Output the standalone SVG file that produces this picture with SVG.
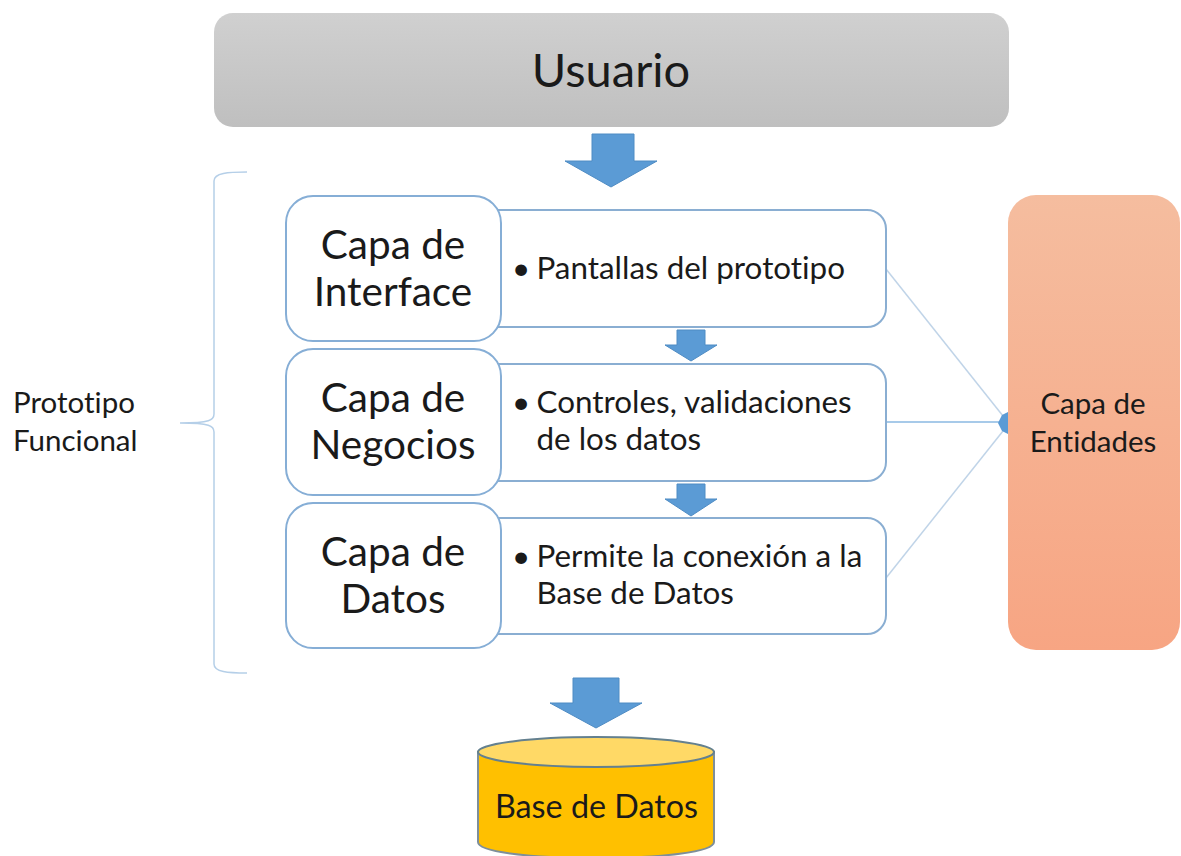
<svg xmlns="http://www.w3.org/2000/svg" width="1181" height="856" viewBox="0 0 1181 856">
<defs>
<linearGradient id="gu" x1="0" y1="0" x2="0" y2="1"><stop offset="0" stop-color="#d0d0d0"/><stop offset="1" stop-color="#bfbfbf"/></linearGradient>
<linearGradient id="ge" x1="0" y1="0" x2="0" y2="1"><stop offset="0" stop-color="#f5bd9f"/><stop offset="1" stop-color="#f7a583"/></linearGradient>
</defs>
<style>
text{font-family:Lato,"Noto Sans","Liberation Sans",sans-serif;fill:#1a1a1a;font-variant-ligatures:none}
.m{text-anchor:middle}
.a{fill:#5b9bd5;stroke:#4f8cc4;stroke-width:1}
.l{fill:#fff;stroke:#86aed6;stroke-width:2}
.r{fill:#fff;stroke:#8aaed2;stroke-width:2}
.h{font-size:40.5px}
.b{font-size:31.4px}
.s{font-size:29.5px}
.c{fill:none;stroke:#c0d4e8;stroke-width:1.5}
</style>
<g id="usuario"><rect x="214" y="13" width="795" height="114" rx="19" fill="url(#gu)"/><text class="m" x="611" y="87" font-size="47">Usuario</text></g>
<g id="connectors">
<path class="c" d="M886 269L1003 416"/>
<path d="M886 422H1003" fill="none" stroke="#8ab8e2" stroke-width="1.5"/>
<path class="c" d="M886 578L1003 431"/>
<path d="M1008 412L1002 415L998 423L1002 431L1008 434Z" fill="#5b9bd5"/>
<path class="a" d="M592 134H634V161H657L611 187L565 161H592Z"/>
<path class="a" d="M677 330H705V345H717L691 361L665 345H677Z"/>
<path class="a" d="M677 484H705V499H717L691 516L665 499H677Z"/>
<path class="a" d="M573 678H619V703H642L596 728L550 703H573Z"/>
</g>
<g id="pantallas"><rect class="r" x="440" y="210" width="446" height="117" rx="19"/><text class="b" x="512" y="279">•</text><text class="b" x="536.5" y="279">Pantallas del prototipo</text></g>
<g id="interface"><rect class="l" x="286" y="196" width="215" height="145" rx="27"/><text class="m h" x="393" y="259">Capa de</text><text class="m h" x="393" y="306">Interface</text></g>
<g id="controles"><rect class="r" x="440" y="364" width="446" height="117" rx="19"/><text class="b" x="512" y="413">•</text><text class="b" x="536.5" y="413">Controles, validaciones</text><text class="b" x="536.5" y="450">de los datos</text></g>
<g id="negocios"><rect class="l" x="286" y="349" width="215" height="146" rx="27"/><text class="m h" x="393" y="412">Capa de</text><text class="m h" x="393" y="459">Negocios</text></g>
<g id="permite"><rect class="r" x="440" y="518" width="446" height="116" rx="19"/><text class="b" x="512" y="567">•</text><text class="b" x="536.5" y="567">Permite la conexión a la</text><text class="b" x="536.5" y="604">Base de Datos</text></g>
<g id="datos"><rect class="l" x="286" y="503" width="215" height="145" rx="27"/><text class="m h" x="393" y="566">Capa de</text><text class="m h" x="393" y="613">Datos</text></g>
<g id="entidades"><rect x="1008" y="195" width="172" height="455" rx="28" fill="url(#ge)"/><text class="m s" x="1093" y="414">Capa de</text><text class="m s" x="1093" y="452">Entidades</text></g>
<g id="prototipo"><path d="M247 172C228 172 214 173 214 181V414C214 420 210 423 180 423C210 423 214 426 214 432V664C214 672 228 673 247 673" fill="none" stroke="#b5cfe8" stroke-width="1.5"/><text class="s" x="13" y="413">Prototipo</text><text class="s" x="13" y="451">Funcional</text></g>
<g id="base"><path d="M478 752V842C478 852 530 858 596 858C662 858 714 852 714 842V752Z" fill="#ffc000" stroke="#7e8f9a" stroke-width="2"/><ellipse cx="596" cy="752" rx="118" ry="15" fill="#ffd966" stroke="#64808f" stroke-width="2"/><text class="m" x="596.5" y="818" font-size="32.3">Base de Datos</text></g>
</svg>
